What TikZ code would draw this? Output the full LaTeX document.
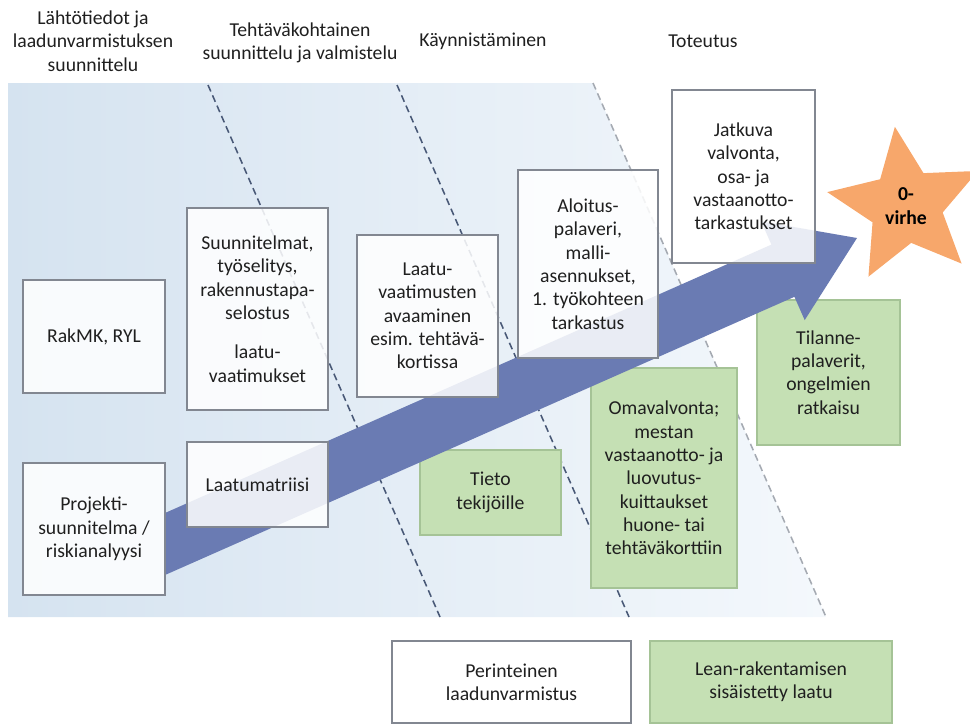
\documentclass[tikz,border=0pt]{standalone}
\usepackage{fontspec}
\setmainfont{Carlito}
\usepackage{tikz}
\usetikzlibrary{shapes.geometric, positioning}

\definecolor{bgleft}{RGB}{213,227,240}
\definecolor{bgright}{RGB}{244,248,252}
\definecolor{arrowblue}{RGB}{106,123,179}
\definecolor{leangreen}{RGB}{197,224,180}
\definecolor{leanedge}{RGB}{165,195,150}
\definecolor{boxedge}{RGB}{130,135,145}
\definecolor{phaseline}{RGB}{72,88,118}
\definecolor{phaselight}{RGB}{165,170,178}
\definecolor{starorange}{RGB}{247,167,107}

\tikzset{
  wbox/.style={draw=boxedge, line width=0.9pt, fill=white, fill opacity=0.86, text opacity=1, inner sep=0pt, align=center},
  gbox/.style={draw=leanedge, line width=0.9pt, fill=leangreen, inner sep=0pt, align=center},
  phase/.style={align=center},
  divider/.style={dash pattern=on 5pt off 3pt, line width=1.1pt, draw=phaseline},
}

\begin{document}
\begin{tikzpicture}[x=0.025cm, y=-0.025cm, font=\fontsize{14}{16.6}\selectfont, text=black!88]
\useasboundingbox (0,0) rectangle (970,725);
\shade[left color=bgleft, right color=bgright] (8,83) -- (593,83) -- (826,617) -- (8,617) -- cycle;

\coordinate (d1top) at (208,85); \coordinate (d1bot) at (440,617);
\coordinate (d2top) at (397,85); \coordinate (d2bot) at (629,617);
\coordinate (d3top) at (593,83); \coordinate (d3bot) at (826,617);
\draw[divider] (d1top) -- (d1bot);
\draw[divider] (d2top) -- (d2bot);
\draw[divider, draw=phaselight] (d3top) -- (d3bot);

\node[phase] (lahto) at (93,41) {Lähtötiedot ja\\laadunvarmistuksen\\suunnittelu};
\node[phase] (tehtava) at (300,43) {Tehtäväkohtainen\\suunnittelu ja valmistelu};
\node[phase] (kaynn) at (483,41) {Käynnistäminen};
\node[phase] (toteutus) at (703,41) {Toteutus};

\node[gbox, minimum width=3.525cm, minimum height=2.125cm] (tieto) at (490.5,492.5) {Tieto\\tekijöille};
\node[gbox, minimum width=3.65cm, minimum height=5.5cm] (omaval) at (664,478) {Omavalvonta;\\mestan\\vastaanotto- ja\\luovutus-\\kuittaukset\\huone- tai\\tehtäväkorttiin};
\node[gbox, minimum width=3.575cm, minimum height=3.625cm] (tilanne) at (828.5,372.5) {Tilanne-\\palaverit,\\ongelmien\\ratkaisu};

\fill[arrowblue] (165,513) -- (771.4,244.6) -- (761.1,221.3) -- (857,238) -- (804.7,320.1) -- (794.4,296.8) -- (165,575) -- cycle;

\node[wbox, minimum width=3.55cm, minimum height=2.825cm] (rakmk) at (94,336.5) {RakMK, RYL};
\node[wbox, minimum width=3.525cm, minimum height=5.05cm] (suunn) at (257.5,309) {Suunnitelmat,\\työselitys,\\rakennustapa-\\selostus\\[0.4cm]laatu-\\vaatimukset};
\node[wbox, minimum width=3.525cm, minimum height=4.05cm] (laatuv) at (427.5,316) {Laatu-\\vaatimusten\\avaaminen\\esim. tehtävä-\\kortissa};
\node[wbox, minimum width=3.5cm, minimum height=4.7cm] (aloitus) at (588,264) {Aloitus-\\palaveri,\\malli-\\asennukset,\\1. työkohteen\\tarkastus};
\node[wbox, minimum width=3.575cm, minimum height=4.325cm] (jatkuva) at (743.5,176.5) {Jatkuva\\valvonta,\\osa- ja\\vastaanotto-\\tarkastukset};
\node[wbox, minimum width=3.55cm, minimum height=3.3cm] (projekti) at (94,529) {Projekti-\\suunnitelma /\\riskianalyysi};
\node[wbox, minimum width=3.525cm, minimum height=2.125cm] (matriisi) at (257.5,484.5) {Laatumatriisi};

\node[star, star points=5, star point ratio=2.15, minimum size=4cm, inner sep=0pt, shape border rotate=8, fill=starorange, text=black, font=\fontsize{14}{16.6}\selectfont\bfseries, align=center] (virhe) at (906,206) {0-\\virhe};

\node[wbox, minimum width=5.975cm, minimum height=2.05cm] (perint) at (511.5,682) {Perinteinen\\laadunvarmistus};
\node[gbox, minimum width=6.05cm, minimum height=2.05cm] (lean) at (771,682) {Lean-rakentamisen\\sisäistetty laatu};
\end{tikzpicture}
\end{document}
